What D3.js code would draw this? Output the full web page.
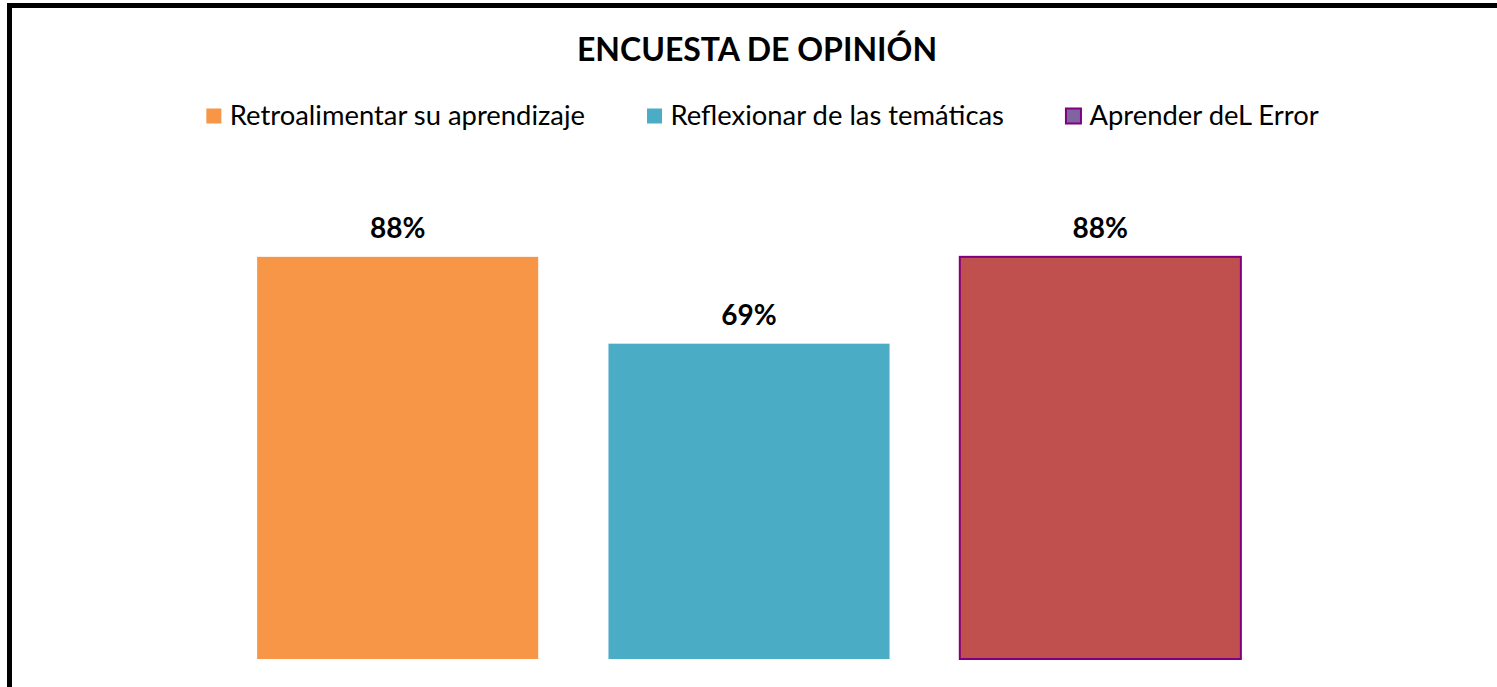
<!DOCTYPE html>
<html lang="es">
<head>
    <meta charset="UTF-8">
    <title>Encuesta de opinión</title>
    <script src="https://d3js.org/d3.v7.min.js"></script>
    <style>
        body { margin: 0; background: #fff; }
        svg { display: block; font-family: Lato, "Open Sans", sans-serif; }
        .title { font-size: 32px; font-weight: bold; fill: #000; }
        .legend text { font-size: 27.4px; fill: #000; }
        .label { font-size: 28px; font-weight: bold; fill: #000; }
    </style>
</head>
<body>
    <svg width="1497" height="687"></svg>

    <script>
        // datos
        var series = ["Retroalimentar su aprendizaje", "Reflexionar de las temáticas", "Aprender deL Error"];
        var values = [0.88, 0.69, 0.88];
        var labels = ["88%", "69%", "88%"];

        var width = 1497, height = 687;
        var svg = d3.select("svg");

        var color = d3.scaleOrdinal()
                      .domain(series)
                      .range(["#F79646", "#4BACC6", "#C0504D"]);
        var legendFill = d3.scaleOrdinal()
                           .domain(series)
                           .range(["#F79646", "#4BACC6", "#8064A2"]);

        // marco del grafico (se sale por la derecha y por abajo)
        svg.append("rect")
           .attr("x", 9.5)
           .attr("y", 5.5)
           .attr("width", width + 20)
           .attr("height", height + 20)
           .attr("fill", "none")
           .attr("stroke", "#000")
           .attr("stroke-width", 5);

        var x = d3.scaleBand()
                  .domain(series)
                  .range([222, 1276])
                  .paddingInner(0.2)
                  .paddingOuter(0.1);

        var y = d3.scaleLinear()
                  .domain([0, 1])
                  .range([659, 202]);

        // barras
        svg.selectAll(".bar")
           .data(series)
           .enter()
           .append("rect")
           .attr("class", "bar")
           .attr("x", function(d) { return x(d); })
           .attr("y", function(d, i) { return y(values[i]); })
           .attr("width", x.bandwidth())
           .attr("height", function(d, i) { return y(0) - y(values[i]); })
           .attr("fill", function(d) { return color(d); })
           .attr("stroke", function(d, i) { return i === 2 ? "#7F007F" : "none"; })
           .attr("stroke-width", 2);

        // etiquetas de datos
        svg.selectAll(".label")
           .data(series)
           .enter()
           .append("text")
           .attr("class", "label")
           .attr("x", function(d) { return x(d) + x.bandwidth() / 2; })
           .attr("y", function(d, i) { return y(values[i]) - 19; })
           .attr("text-anchor", "middle")
           .text(function(d, i) { return labels[i]; });

        // titulo
        svg.append("text")
           .attr("class", "title")
           .attr("x", 757)
           .attr("y", 61)
           .attr("text-anchor", "middle")
           .text("ENCUESTA DE OPINIÓN");

        // leyenda
        var legend = svg.append("g").attr("class", "legend");
        var items = legend.selectAll(".legend-item")
                          .data(series)
                          .enter()
                          .append("g")
                          .attr("class", "legend-item");

        items.append("rect")
             .attr("width", 15)
             .attr("height", 15)
             .attr("y", 108.5)
             .attr("x", 0.5)
             .attr("fill", function(d) { return legendFill(d); })
             .attr("stroke", function(d, i) { return i === 2 ? "#7F007F" : "none"; })
             .attr("stroke-width", 2);

        items.append("text")
             .attr("x", 24)
             .attr("y", 125)
             .text(function(d) { return d; });

        var offsets = [], total = 0;
        items.each(function() {
            var w = this.getBBox().width;
            offsets.push(total);
            total += w + 62;
        });
        total -= 62;
        var startX = 762 - total / 2;
        items.attr("transform", function(d, i) {
            return "translate(" + (startX + offsets[i]) + ",0)";
        });
    </script>
</body>
</html>
